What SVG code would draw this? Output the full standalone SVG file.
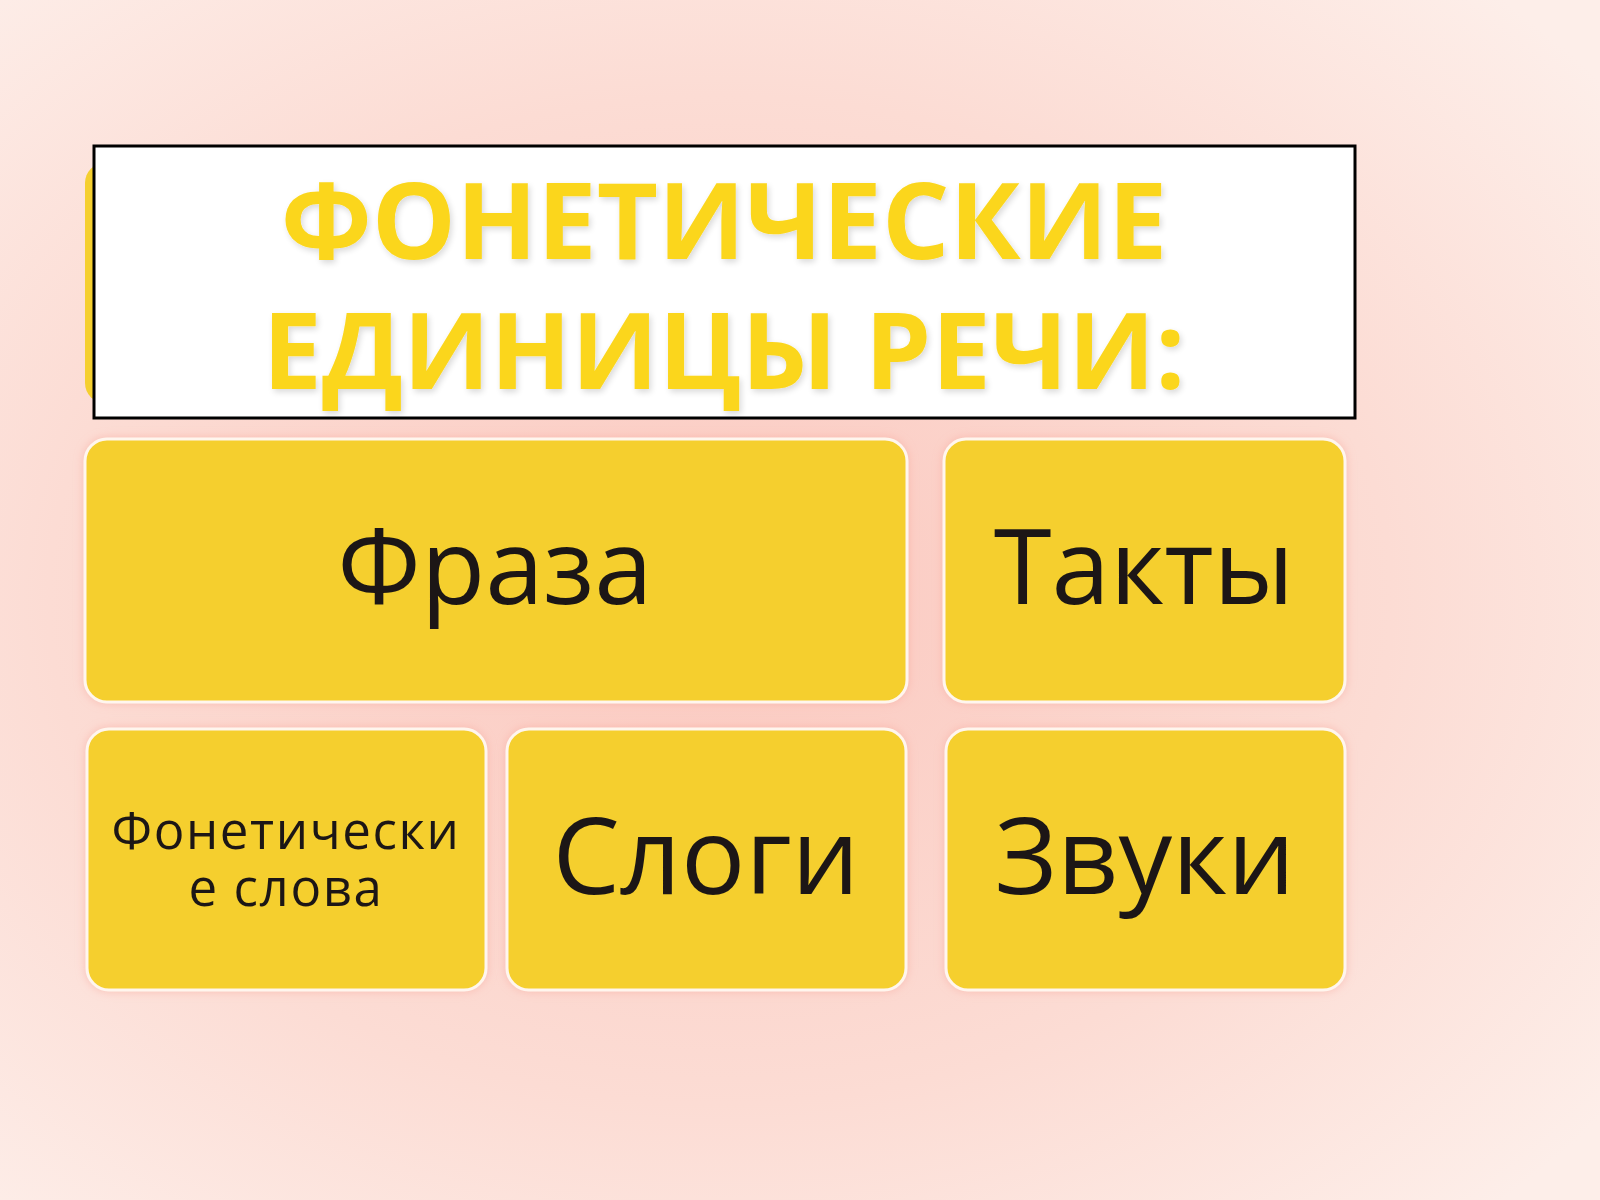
<svg xmlns="http://www.w3.org/2000/svg" width="1600" height="1200" viewBox="0 0 1600 1200">
<defs>
<radialGradient id="bg" cx="0.45" cy="0.5" r="0.7">
<stop offset="0" stop-color="#fbc9c0"/>
<stop offset="0.6" stop-color="#fcdcd4"/>
<stop offset="1" stop-color="#fdeee9"/>
</radialGradient>
<filter id="glow" x="-10%" y="-10%" width="120%" height="120%">
<feGaussianBlur in="SourceAlpha" stdDeviation="6"/>
<feFlood flood-color="#f8a89c" flood-opacity="0.6"/>
<feComposite operator="in" in2="SourceAlpha"/>
<feGaussianBlur stdDeviation="5"/>
<feMerge><feMergeNode/><feMergeNode in="SourceGraphic"/></feMerge>
</filter>
<filter id="tshadow" x="-5%" y="-20%" width="110%" height="140%">
<feGaussianBlur in="SourceAlpha" stdDeviation="3"/>
<feOffset dx="2" dy="3"/>
<feComponentTransfer><feFuncA type="linear" slope="0.15"/></feComponentTransfer>
<feMerge><feMergeNode/><feMergeNode in="SourceGraphic"/></feMerge>
</filter>
</defs>
<style>
.box{fill:#f5cf2f;stroke:#fff6ee;stroke-width:3}
.lbl{font-family:"Open Sans","Noto Sans","DejaVu Sans",sans-serif;fill:#1e1915;text-anchor:middle}
.ttl{font-family:"Open Sans","Noto Sans","DejaVu Sans",sans-serif;font-weight:bold;fill:#fbd61e;text-anchor:middle;font-size:106px}
</style>
<rect width="1600" height="1200" fill="url(#bg)"/>
<g id="title">
<rect x="85" y="163" width="60" height="240" rx="20" fill="#f5cf2f"/>
<rect x="94" y="146" width="1261" height="272" fill="#ffffff" stroke="#000000" stroke-width="3"/>
<g filter="url(#tshadow)">
<text class="ttl" x="724" y="259">ФОНЕТИЧЕСКИЕ</text>
<text class="ttl" x="724" y="389">ЕДИНИЦЫ РЕЧИ:</text>
</g>
</g>
<g id="connectors"/>
<g id="fraza" filter="url(#glow)">
<rect class="box" x="85" y="439" width="822" height="263" rx="22"/>
<text class="lbl" x="495" y="604" font-size="105">Фраза</text>
</g>
<g id="takty" filter="url(#glow)">
<rect class="box" x="944" y="439" width="401" height="263" rx="22"/>
<text class="lbl" x="1144" y="604" font-size="105">Такты</text>
</g>
<g id="fon-slova" filter="url(#glow)">
<rect class="box" x="87" y="729" width="399" height="261" rx="22"/>
<text class="lbl" x="286" y="849" font-size="51" letter-spacing="1.6">Фонетически</text>
<text class="lbl" x="286" y="906" font-size="51" letter-spacing="1.6">е слова</text>
</g>
<g id="slogi" filter="url(#glow)">
<rect class="box" x="507" y="729" width="399" height="261" rx="22"/>
<text class="lbl" x="706" y="894" font-size="107">Слоги</text>
</g>
<g id="zvuki" filter="url(#glow)">
<rect class="box" x="946" y="729" width="399" height="261" rx="22"/>
<text class="lbl" x="1145" y="894" font-size="107">Звуки</text>
</g>
</svg>
